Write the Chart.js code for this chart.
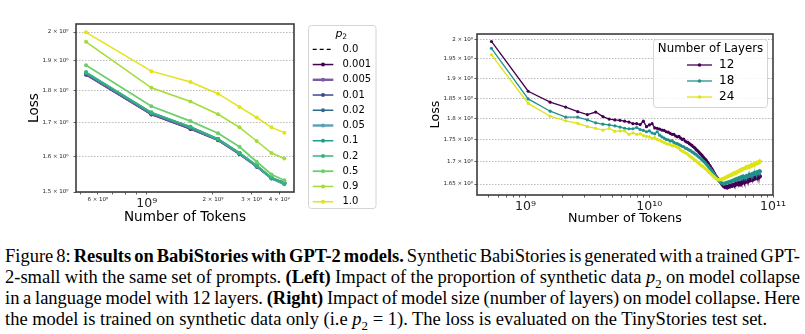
<!DOCTYPE html>
<html>
<head>
<meta charset="utf-8">
<script src="https://cdn.jsdelivr.net/npm/chart.js@4.4.1/dist/chart.umd.min.js"></script>
<style>
  html, body { margin: 0; padding: 0; background: #fff; }
  body { width: 805px; height: 334px; position: relative; overflow: hidden; }
  #left-wrap { position: absolute; left: 0; top: 0; width: 380px; height: 232px; }
  #right-wrap { position: absolute; left: 380px; top: 0; width: 425px; height: 232px; }
  #caption { position: absolute; left: 5px; top: 246px; width: 795px; font-family: 'Liberation Serif', 'Times New Roman', serif; font-size: 18.5px; line-height: 21px; color: #000; }
  #caption .j { text-align: justify; text-align-last: justify; white-space: nowrap; word-spacing: -3.5px; }
  #caption .l { white-space: nowrap; }
  #caption sub { font-size: 70%; line-height: 0; }
</style>
</head>
<body>
<div id="left-wrap"><canvas id="left-chart"></canvas></div>
<div id="right-wrap"><canvas id="right-chart"></canvas></div>
<div id="caption">
  <div class="j">Figure 8: <b>Results on BabiStories with GPT-2 models.</b> Synthetic BabiStories is generated with a trained GPT-</div>
  <div class="j">2-small with the same set of prompts. <b>(Left)</b> Impact of the proportion of synthetic data <i>p</i><sub>2</sub> on model collapse</div>
  <div class="j">in a language model with 12 layers. <b>(Right)</b> Impact of model size (number of layers) on model collapse. Here</div>
  <div class="l">the model is trained on synthetic data only (i.e <i>p</i><sub>2</sub> = 1). The loss is evaluated on the TinyStories test set.</div>
</div>
<script>
const FONT = "'DejaVu Sans', 'Liberation Sans', sans-serif";

// tokens seen at each evaluation step, in billions
const tokensB = [0.53,1.05,1.58,2.11,2.64,3.16,3.69,4.22,4.74,5.27,5.80,6.32,6.85,7.38,7.91,8.43,8.96,9.49,10.01,10.54,
  11.07,11.59,12.12,12.65,13.18,13.70,14.23,14.76,15.28,15.81,16.34,16.86,17.39,17.92,18.45,18.97,19.50,20.03,20.55,21.08,
  21.61,22.13,22.66,23.19,23.72,24.24,24.77,25.30,25.82,26.35,26.88,27.40,27.93,28.46,28.99,29.51,30.04,30.57,31.09,31.62,
  32.15,32.67,33.20,33.73,34.26,34.78,35.31,35.84,36.36,36.89,37.42,37.94,38.47,39.00,39.53,40.05,40.58,41.11,41.63,42.16,
  42.69,43.21,43.74,44.27,44.80,45.32,45.85,46.38,46.90,47.43,47.96,48.48,49.01,49.54,50.07,50.59,51.12,51.65,52.17,52.70,
  53.23,53.75,54.28,54.81,55.34,55.86,56.39,56.92,57.44,57.97,58.50,59.02,59.55,60.08,60.61,61.13,61.66,62.19,62.71,63.24,
  63.77,64.29,64.82,65.35,65.88,66.40,66.93,67.46,67.98,68.51,69.04,69.56,70.09,70.62,71.15,71.67,72.20,72.73,73.25,73.78,
  74.31,74.83,75.36,75.89,76.42,76.94,77.47,78.00,78.52,79.05];

// left panel: 12 layers, one curve per p2
const p2Labels = ['0.0', '0.001', '0.005', '0.01', '0.02', '0.05', '0.1', '0.2', '0.5', '0.9', '1.0'];
const loss_0_0   = [1.853, 1.725, 1.681, 1.647, 1.606, 1.570, 1.537, 1.525];
const loss_0_001 = [1.852, 1.724, 1.680, 1.646, 1.606, 1.570, 1.538, 1.526];
const loss_0_005 = [1.854, 1.726, 1.682, 1.647, 1.606, 1.571, 1.538, 1.525];
const loss_0_01  = [1.855, 1.727, 1.683, 1.648, 1.607, 1.571, 1.537, 1.524];
const loss_0_02  = [1.856, 1.728, 1.684, 1.649, 1.608, 1.572, 1.538, 1.523];
const loss_0_05  = [1.858, 1.729, 1.685, 1.649, 1.608, 1.572, 1.537, 1.521];
const loss_0_1   = [1.859, 1.730, 1.686, 1.650, 1.609, 1.573, 1.539, 1.523];
const loss_0_2   = [1.861, 1.731, 1.687, 1.650, 1.609, 1.573, 1.540, 1.524];
const loss_0_5   = [1.884, 1.750, 1.704, 1.667, 1.627, 1.584, 1.548, 1.532];
const loss_0_9   = [1.965, 1.809, 1.765, 1.725, 1.685, 1.644, 1.609, 1.593];
const loss_1_0   = [1.999, 1.864, 1.828, 1.790, 1.748, 1.715, 1.685, 1.669];

// right panel: synthetic data only, one curve per depth
const layerLabels = ['12', '18', '24'];
const loss_L12 = [1.995,1.867,1.840,1.828,1.817,1.810,1.816,1.805,1.799,1.797,
  1.796,1.794,1.792,1.788,1.788,1.786,1.794,1.781,1.785,1.788,
  1.778,1.777,1.775,1.773,1.772,1.769,1.768,1.765,1.763,1.763,
  1.759,1.757,1.758,1.754,1.751,1.752,1.747,1.745,1.744,1.741,
  1.739,1.737,1.734,1.732,1.729,1.726,1.724,1.721,1.718,1.716,
  1.713,1.710,1.707,1.705,1.702,1.699,1.696,1.692,1.690,1.686,
  1.683,1.680,1.676,1.673,1.669,1.667,1.664,1.662,1.659,1.657,
  1.655,1.652,1.650,1.648,1.646,1.644,1.645,1.642,1.643,1.645,
  1.641,1.644,1.646,1.643,1.647,1.644,1.646,1.649,1.645,1.648,
  1.647,1.650,1.646,1.649,1.652,1.648,1.651,1.649,1.653,1.650,
  1.654,1.651,1.648,1.653,1.655,1.651,1.654,1.657,1.652,1.655,
  1.658,1.653,1.656,1.660,1.654,1.657,1.661,1.655,1.658,1.662,
  1.656,1.659,1.663,1.657,1.660,1.664,1.658,1.661,1.665,1.659,
  1.662,1.666,1.660,1.663,1.667,1.661,1.664,1.668,1.662,1.665,
  1.669,1.663,1.666,1.670,1.664,1.667,1.670,1.665,1.668,1.667];
const loss_L18 = [1.977,1.848,1.818,1.804,1.804,1.797,1.790,1.787,1.785,1.783,
  1.780,1.777,1.776,1.776,1.779,1.774,1.772,1.769,1.771,1.766,
  1.764,1.769,1.761,1.757,1.754,1.751,1.750,1.747,1.748,1.744,
  1.742,1.741,1.739,1.737,1.735,1.734,1.731,1.730,1.728,1.726,
  1.725,1.722,1.721,1.718,1.717,1.715,1.712,1.710,1.708,1.706,
  1.703,1.701,1.699,1.697,1.694,1.692,1.689,1.686,1.684,1.681,
  1.679,1.676,1.673,1.670,1.667,1.665,1.662,1.660,1.658,1.656,
  1.655,1.653,1.652,1.651,1.652,1.650,1.652,1.651,1.653,1.652,
  1.654,1.653,1.655,1.654,1.656,1.655,1.657,1.655,1.658,1.657,
  1.659,1.657,1.660,1.658,1.661,1.659,1.662,1.660,1.663,1.661,
  1.664,1.662,1.665,1.663,1.666,1.664,1.667,1.664,1.668,1.666,
  1.666,1.664,1.667,1.665,1.668,1.665,1.669,1.666,1.669,1.667,
  1.670,1.667,1.671,1.668,1.671,1.669,1.672,1.669,1.673,1.670,
  1.673,1.671,1.674,1.671,1.675,1.672,1.675,1.673,1.676,1.673,
  1.677,1.674,1.677,1.675,1.678,1.675,1.679,1.676,1.679,1.678];
const loss_L24 = [1.960,1.837,1.806,1.795,1.789,1.781,1.777,1.773,1.777,1.770,
  1.771,1.771,1.763,1.766,1.763,1.764,1.760,1.758,1.757,1.753,
  1.755,1.751,1.749,1.746,1.744,1.741,1.740,1.739,1.736,1.737,
  1.735,1.733,1.730,1.726,1.724,1.722,1.720,1.719,1.716,1.713,
  1.711,1.709,1.706,1.704,1.702,1.700,1.697,1.696,1.693,1.691,
  1.690,1.688,1.686,1.684,1.682,1.681,1.678,1.676,1.674,1.672,
  1.670,1.668,1.667,1.665,1.663,1.662,1.661,1.660,1.659,1.660,
  1.659,1.661,1.660,1.662,1.661,1.663,1.662,1.665,1.664,1.666,
  1.665,1.668,1.667,1.669,1.668,1.671,1.669,1.672,1.670,1.673,
  1.672,1.675,1.673,1.676,1.674,1.677,1.675,1.678,1.677,1.679,
  1.678,1.681,1.679,1.682,1.680,1.683,1.681,1.684,1.683,1.685,
  1.684,1.686,1.684,1.687,1.685,1.688,1.686,1.689,1.687,1.690,
  1.688,1.690,1.688,1.691,1.689,1.692,1.690,1.693,1.690,1.693,
  1.691,1.694,1.692,1.695,1.693,1.696,1.694,1.697,1.695,1.698,
  1.696,1.698,1.696,1.699,1.697,1.700,1.698,1.701,1.699,1.701];

// axis ticks
const leftXTicks = [5e8, 6e8, 7e8, 8e8, 9e8, 1e9, 2e9, 3e9, 4e9];
const leftXLabels = ['', '6 × 10⁸', '', '', '', '10⁹', '2 × 10⁹', '3 × 10⁹', '4 × 10⁹'];
const leftYTicks = [1.5, 1.6, 1.7, 1.8, 1.9, 2.0];
const leftYLabels = ['1.5 × 10⁰', '1.6 × 10⁰', '1.7 × 10⁰', '1.8 × 10⁰', '1.9 × 10⁰', '2 × 10⁰'];
const rightXTicks = [5e8, 6e8, 7e8, 8e8, 9e8, 1e9, 2e9, 3e9, 4e9, 5e9, 6e9, 7e9, 8e9, 9e9,
  1e10, 2e10, 3e10, 4e10, 5e10, 6e10, 7e10, 8e10, 9e10, 1e11];
const rightXLabels = ['', '', '', '', '', '10⁹', '', '', '', '', '', '', '', '',
  '10¹⁰', '', '', '', '', '', '', '', '', '10¹¹'];
const rightYTicks = [1.65, 1.7, 1.75, 1.8, 1.85, 1.9, 1.95, 2.0];
const rightYLabels = ['1.65 × 10⁰', '1.7 × 10⁰', '1.75 × 10⁰', '1.8 × 10⁰', '1.85 × 10⁰', '1.9 × 10⁰', '1.95 × 10⁰', '2 × 10⁰'];

const leftSeries = [loss_0_0, loss_0_001, loss_0_005, loss_0_01, loss_0_02, loss_0_05, loss_0_1, loss_0_2, loss_0_5, loss_0_9, loss_1_0];
const leftColors = ['#000000', '#440154', '#7a5ca0', '#3e4989', '#31688e', '#5a9fb2', '#1f9e89', '#35b779', '#6ccf6a', '#a5db36', '#e2e31a'];
const leftWidths = [1.3, 1.5, 2.4, 1.5, 1.5, 2.4, 1.5, 1.5, 1.8, 1.5, 1.5];
const rightSeries = [loss_L12, loss_L18, loss_L24];
const rightColors = ['#440154', '#21918c', '#dde318'];

function toPoints(vals) {
  return vals.map((v, i) => ({ x: tokensB[i] * 1e9, y: v }));
}

const leftSets = leftSeries.map((vals, i) => ({
  label: p2Labels[i],
  data: toPoints(vals),
  borderColor: leftColors[i],
  backgroundColor: leftColors[i],
  borderWidth: leftWidths[i],
  borderDash: i === 0 ? [4, 3] : [],
  pointRadius: i === 0 ? 0 : 2,
  pointBorderWidth: 0,
  tension: 0,
  order: -i
}));

const rightSets = rightSeries.map((vals, i) => ({
  label: layerLabels[i],
  data: toPoints(vals),
  borderColor: rightColors[i],
  backgroundColor: rightColors[i],
  borderWidth: 1.3,
  pointRadius: 1.6,
  pointBorderWidth: 0,
  tension: 0,
  order: -i
}));

function bigLabel(c) {
  const lab = c.tick && c.tick.label;
  return !!lab && lab.indexOf('×') < 0;
}

function logAxis(min, max, vals, labels, opt) {
  return {
    type: 'logarithmic',
    min: min,
    max: max,
    afterBuildTicks: axis => { axis.ticks = vals.map(v => ({ value: v })); },
    afterFit: axis => {
      if (opt.width) axis.width = opt.width;
      if (opt.height) axis.height = opt.height;
      axis.paddingLeft = 0; axis.paddingRight = 0;
      axis.paddingTop = 0; axis.paddingBottom = 0;
    },
    ticks: {
      autoSkip: false,
      maxRotation: 0,
      minRotation: 0,
      padding: opt.pad,
      color: '#222',
      font: c => ({ family: FONT, size: bigLabel(c) ? 12.5 : 5.5 }),
      callback: (v, i) => labels[i]
    },
    grid: {
      drawOnChartArea: !!opt.grid,
      color: '#aaaaaa',
      lineWidth: 0.8,
      tickColor: '#333',
      tickLength: 2.5,
      tickWidth: 0.8,
      tickBorderDash: []
    },
    border: { display: false, dash: [1.5, 1.5] }
  };
}

const framePlugin = {
  id: 'frame',
  afterDatasetsDraw(chart) {
    const { left, top, right, bottom } = chart.chartArea;
    const ctx = chart.ctx;
    ctx.save();
    ctx.strokeStyle = '#3c3c3c';
    ctx.lineWidth = 1.6;
    ctx.strokeRect(left, top, right - left, bottom - top);
    ctx.restore();
  }
};

function drawTitles(chart, lossX, tokY, size) {
  const ctx = chart.ctx;
  const { left, top, right, bottom } = chart.chartArea;
  ctx.save();
  ctx.fillStyle = '#000';
  ctx.font = size + 'px ' + FONT;
  ctx.textAlign = 'center';
  ctx.textBaseline = 'middle';
  ctx.fillText('Number of Tokens', (left + right) / 2, tokY);
  ctx.translate(lossX, (top + bottom) / 2);
  ctx.rotate(-Math.PI / 2);
  ctx.fillText('Loss', 0, 0);
  ctx.restore();
}

function legendBox(ctx, x0, y0, x1, y1) {
  ctx.save();
  ctx.fillStyle = 'rgba(255,255,255,0.85)';
  ctx.strokeStyle = '#d4d4d4';
  ctx.lineWidth = 1;
  ctx.beginPath();
  ctx.roundRect(x0, y0, x1 - x0, y1 - y0, 3);
  ctx.fill();
  ctx.stroke();
  ctx.restore();
}

function legendRow(ctx, ds, y, x0, x1, tx, size, r) {
  ctx.save();
  ctx.strokeStyle = ds.borderColor;
  ctx.lineWidth = ds.borderWidth;
  ctx.setLineDash(ds.borderDash || []);
  ctx.beginPath();
  ctx.moveTo(x0, y);
  ctx.lineTo(x1, y);
  ctx.stroke();
  if (ds.pointRadius > 0) {
    ctx.fillStyle = ds.borderColor;
    ctx.beginPath();
    ctx.arc((x0 + x1) / 2, y, r, 0, Math.PI * 2);
    ctx.fill();
  }
  ctx.fillStyle = '#000';
  ctx.font = size + 'px ' + FONT;
  ctx.textAlign = 'left';
  ctx.textBaseline = 'middle';
  ctx.fillText(ds.label, tx, y);
  ctx.restore();
}

const leftDecor = {
  id: 'leftDecor',
  afterDraw(chart) {
    const ctx = chart.ctx;
    drawTitles(chart, 34, 217, 13.6);
    legendBox(ctx, 308.5, 25.5, 376, 208.5);
    ctx.save();
    ctx.fillStyle = '#000';
    ctx.textBaseline = 'middle';
    ctx.font = 'italic 11px ' + FONT;
    ctx.fillText('p', 335.5, 34);
    ctx.font = '7.5px ' + FONT;
    ctx.fillText('2', 342.2, 37);
    ctx.restore();
    chart.data.datasets.forEach((ds, i) => {
      legendRow(ctx, ds, 49.3 + i * 15.24, 312.7, 333.3, 342.5, 10, 2);
    });
  }
};

const rightDecor = {
  id: 'rightDecor',
  afterDraw(chart) {
    const ctx = chart.ctx;
    drawTitles(chart, 55.3, 218.3, 12.7);
    legendBox(ctx, 273.5, 39.5, 387.5, 107.5);
    ctx.save();
    ctx.fillStyle = '#000';
    ctx.font = '11.8px ' + FONT;
    ctx.textAlign = 'center';
    ctx.textBaseline = 'middle';
    ctx.fillText('Number of Layers', 330.5, 49);
    ctx.restore();
    chart.data.datasets.forEach((ds, i) => {
      legendRow(ctx, ds, 65 + i * 16, 307, 332, 339, 12, 1.8);
    });
  }
};

function baseOptions(padding, xAxis, yAxis) {
  return {
    responsive: true,
    maintainAspectRatio: false,
    animation: false,
    layout: { padding: padding },
    plugins: { legend: { display: false }, tooltip: { enabled: false } },
    scales: { x: xAxis, y: yAxis }
  };
}

const leftChart = new Chart(document.getElementById('left-chart'), {
  type: 'line',
  data: { datasets: leftSets },
  options: baseOptions(
    { left: 0, top: 24, right: 86, bottom: 0 },
    logAxis(4.77e8, 4.67e9, leftXTicks, leftXLabels, { height: 40, pad: 2 }),
    logAxis(1.5, 2.029, leftYTicks, leftYLabels, { width: 76, pad: 5, grid: true })
  ),
  plugins: [framePlugin, leftDecor]
});

const rightChart = new Chart(document.getElementById('right-chart'), {
  type: 'line',
  data: { datasets: rightSets },
  options: baseOptions(
    { left: 0, top: 34, right: 32, bottom: 0 },
    logAxis(4.05e8, 1e11, rightXTicks, rightXLabels, { height: 37, pad: 2 }),
    logAxis(1.626, 2.015, rightYTicks, rightYLabels, { width: 97, pad: 1.5, grid: true })
  ),
  plugins: [framePlugin, rightDecor]
});
</script>
</body>
</html>
